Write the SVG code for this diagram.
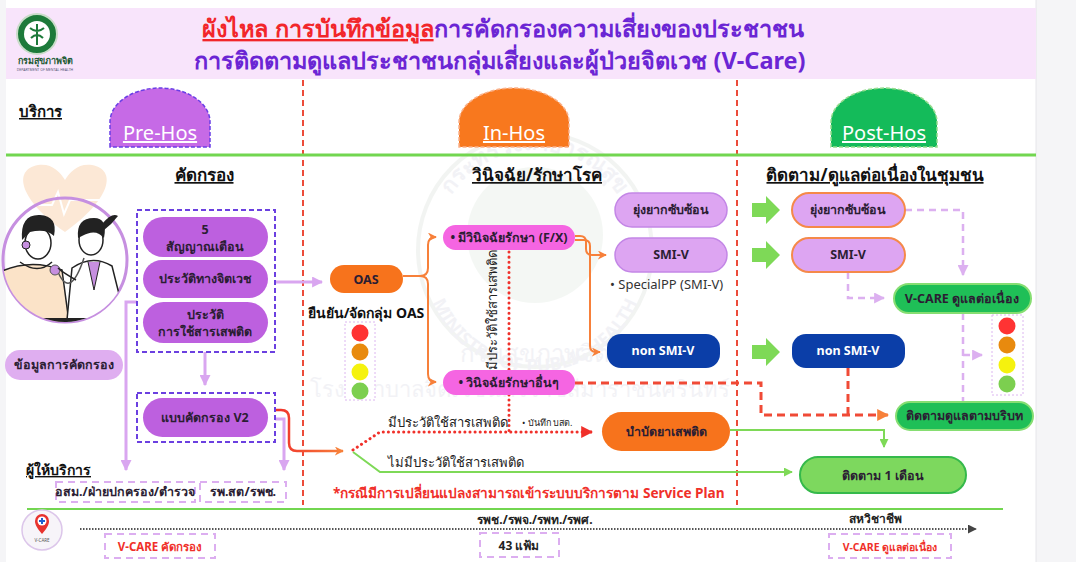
<svg xmlns="http://www.w3.org/2000/svg" width="1076" height="562" viewBox="0 0 1076 562">
  <defs>
    <style>
      text { font-family: "Noto Sans", "DejaVu Sans", sans-serif; }
      .b { font-weight: 700; }
      .pill-t { font-size: 12.5px; font-weight: 700; fill: #2b1d33; text-anchor: middle; }
      .pill-w { font-size: 12.5px; font-weight: 700; fill: #ffffff; text-anchor: middle; }
      .head { font-size: 17px; font-weight: 700; fill: #111; text-anchor: middle; text-decoration: underline; }
      .screen { fill: #bd60df; }
      .dbox { fill: none; stroke: #6b40e0; stroke-width: 2; stroke-dasharray: 5 3; }
      .lbox { fill: #ffffff; stroke: #dcaef0; stroke-width: 2; stroke-dasharray: 7 5; }
      .lav { fill: #dda5f2; stroke: #c386e6; stroke-width: 1.5; }
      .lav-o { fill: #dda5f2; stroke: #f5894a; stroke-width: 2; }
      .navy { fill: #0b3ea8; }
      .mag { fill: #f565e2; }
      .org { fill: #f7731c; }
      .grn { fill: #1fbf57; stroke: #86de72; stroke-width: 2; }
      .sep { stroke: #ec4b3a; stroke-width: 2; stroke-dasharray: 6 4; fill: none; }
      .c-pur { fill: none; stroke: #d9a6f0; stroke-width: 3; }
      .c-org { fill: none; stroke: #f7803a; stroke-width: 2; }
      .c-grn { fill: none; stroke: #7ed957; stroke-width: 2; }
      .c-lav { fill: none; stroke: #dcb0f0; stroke-width: 2.5; stroke-dasharray: 7 5; }
      .c-rdash { fill: none; stroke: #f04a36; stroke-width: 3; stroke-dasharray: 8 5; }
      .c-rdot { fill: none; stroke: #f0302a; stroke-width: 3; stroke-dasharray: 0.1 5; stroke-linecap: round; }
      .tl-box { fill: #ffffff; stroke: #dcb6f0; stroke-width: 1; stroke-dasharray: 2 2; }
      .wm { fill: #e4e4ec; }
    </style>
    <marker id="mPur" viewBox="0 0 10 10" refX="9" refY="5" markerUnits="userSpaceOnUse" markerWidth="11" markerHeight="11" orient="auto">
      <path d="M0,0 L10,5 L0,10 z" fill="#d9a6f0"/>
    </marker>
    <marker id="mOrg" viewBox="0 0 10 10" refX="9" refY="5" markerUnits="userSpaceOnUse" markerWidth="9" markerHeight="9" orient="auto">
      <path d="M0,0 L10,5 L0,10 L3,5 z" fill="#f7803a"/>
    </marker>
    <marker id="mOrgB" viewBox="0 0 10 10" refX="9" refY="5" markerUnits="userSpaceOnUse" markerWidth="12" markerHeight="12" orient="auto">
      <path d="M0,0 L10,5 L0,10 z" fill="#f7803a"/>
    </marker>
    <marker id="mRed" viewBox="0 0 10 10" refX="9" refY="5" markerUnits="userSpaceOnUse" markerWidth="12" markerHeight="12" orient="auto">
      <path d="M0,0 L10,5 L0,10 z" fill="#f0302a"/>
    </marker>
    <marker id="mGrn" viewBox="0 0 10 10" refX="9" refY="5" markerUnits="userSpaceOnUse" markerWidth="9" markerHeight="9" orient="auto">
      <path d="M0,0 L10,5 L0,10 z" fill="#7ed957"/>
    </marker>
    <marker id="mLav" viewBox="0 0 10 10" refX="9" refY="5" markerUnits="userSpaceOnUse" markerWidth="11" markerHeight="11" orient="auto">
      <path d="M0,0 L10,5 L0,10 z" fill="#dcb0f0"/>
    </marker>
    <marker id="mDark" viewBox="0 0 10 10" refX="9" refY="5" markerUnits="userSpaceOnUse" markerWidth="9" markerHeight="9" orient="auto">
      <path d="M0,0 L10,5 L0,10 z" fill="#444"/>
    </marker>
    <linearGradient id="gRedOrg" x1="0" y1="0" x2="1" y2="0">
      <stop offset="0" stop-color="#f0302a"/>
      <stop offset="1" stop-color="#f7803a"/>
    </linearGradient>
    <clipPath id="clipCircle">
      <circle cx="65" cy="260" r="62"/>
    </clipPath>
    <path id="wmTop" d="M435,250 A100,100 0 0 1 635,250"/>
    <path id="wmBot" d="M425,262 A110,110 0 0 0 645,262"/>
  </defs>

  <!-- page and panel -->
  <rect x="0" y="0" width="1076" height="562" fill="#f5f5f7"/>
  <rect x="6" y="0" width="1030" height="562" fill="#ffffff"/>
  <line x1="1036" y1="0" x2="1036" y2="562" stroke="#e6e6ea" stroke-width="1"/>

  <!-- header band -->
  <g id="header">
    <rect x="6" y="8" width="1030" height="71" fill="#f8e4fb"/>
    <g id="logo">
      <circle cx="37" cy="34" r="20" fill="#1d7a3a" stroke="#c9dcc9" stroke-width="2"/>
      <circle cx="37" cy="34" r="13" fill="#ffffff"/>
      <path d="M37,24 V45 M30,28 Q37,34 44,28 M31,38 Q37,32 43,38" stroke="#1d7a3a" stroke-width="2" fill="none"/>
      <text x="45" y="64" font-size="9" class="b" fill="#1d5a34" text-anchor="middle">กรมสุขภาพจิต</text>
      <text x="45" y="71" font-size="3.5" fill="#557" text-anchor="middle">DEPARTMENT OF MENTAL HEALTH</text>
    </g>
    <text x="503" y="37" font-size="23.5" class="b" text-anchor="middle" fill="#6b25d4"><tspan fill="#f2262a" text-decoration="underline">ผังไหล การบันทึกข้อมูล</tspan>การคัดกรองความเสี่ยงของประชาชน</text>
    <text x="500" y="69" font-size="23.5" class="b" text-anchor="middle" fill="#6b25d4">การติดตามดูแลประชาชนกลุ่มเสี่ยงและผู้ป่วยจิตเวช (V-Care)</text>
  </g>

  <!-- faint watermark -->
  <g id="watermark" opacity="0.45">
    <circle cx="535" cy="250" r="117" fill="none" stroke="#e4e8e4" stroke-width="4"/>
    <circle cx="535" cy="235" r="68" fill="#e8efe8"/>
    <text font-size="22" class="b wm"><textPath href="#wmTop" startOffset="50%" text-anchor="middle">กระทรวงสาธารณสุข</textPath></text>
    <text font-size="18" class="b wm"><textPath href="#wmBot" startOffset="50%" text-anchor="middle">MINISTRY OF PUBLIC HEALTH</textPath></text>
    <text x="535" y="362" font-size="24" class="wm" text-anchor="middle">กรมสุขภาพจิต</text>
    <text x="520" y="397" font-size="22" class="wm" text-anchor="middle">โรงพยาบาลจิตเวชนครราชสีมาราชนครินทร์</text>
  </g>

  <!-- phase tabs -->
  <text x="19" y="117" font-size="15" class="b" fill="#111" text-decoration="underline">บริการ</text>
  <g id="tab-pre">
    <path d="M110,147 V122 A50,34 0 0 1 210,122 V147 Z" fill="#c66ae6" stroke="#6a3ee6" stroke-width="1.5" stroke-dasharray="4 2"/>
    <text x="160" y="140" font-size="20" fill="#ffffff" text-anchor="middle" text-decoration="underline">Pre-Hos</text>
  </g>
  <g id="tab-in">
    <path d="M459,147 V122 A55,34 0 0 1 569,122 V147 Z" fill="#f8781e" stroke="#fab18a" stroke-width="1.5" stroke-dasharray="4 2"/>
    <text x="514" y="140" font-size="20" fill="#ffffff" text-anchor="middle" text-decoration="underline">In-Hos</text>
  </g>
  <g id="tab-post">
    <path d="M831,147 V122 A53,34 0 0 1 937,122 V147 Z" fill="#14bb5a" stroke="#95dc8e" stroke-width="1.5" stroke-dasharray="4 2"/>
    <text x="884" y="140" font-size="20" fill="#ffffff" text-anchor="middle" text-decoration="underline">Post-Hos</text>
  </g>

  <!-- phase separators and rules -->
  <line class="sep" x1="303" y1="80" x2="303" y2="505"/>
  <line class="sep" x1="737" y1="80" x2="737" y2="505"/>
  <line x1="6" y1="155" x2="1036" y2="155" stroke="#72d650" stroke-width="3"/>
  <line x1="27" y1="509" x2="1003" y2="509" stroke="#72d650" stroke-width="2"/>

  <!-- section headings -->
  <text class="head" x="204" y="181">คัดกรอง</text>
  <text class="head" x="537" y="181">วินิจฉัย/รักษาโรค</text>
  <text class="head" x="875" y="181">ติดตาม/ดูแลต่อเนื่องในชุมชน</text>

  <!-- screening illustration -->
  <g id="illustration">
    <path d="M65,232 C20,200 12,170 38,165 C52,163 60,172 65,180 C70,172 78,163 92,165 C118,170 110,200 65,232 Z" fill="#fce8d6"/>
    <path d="M28,205 H52 L58,192 L64,214 L70,200 H102" fill="none" stroke="#ffffff" stroke-width="2"/>
    <circle cx="65" cy="260" r="62" fill="none" stroke="#c68fe0" stroke-width="3"/>
    <g clip-path="url(#clipCircle)">
      <path d="M0,272 Q30,258 62,270 L70,330 H0 Z" fill="#fbe3c8" stroke="#222" stroke-width="1.5"/>
      <path d="M20,262 Q38,275 52,262" fill="none" stroke="#222" stroke-width="1.5"/>
      <path d="M72,268 Q92,254 112,266 L128,330 H66 Z" fill="#ffffff" stroke="#222" stroke-width="1.5"/>
      <path d="M88,262 L94,290 L100,262" fill="#c68fe0" stroke="#222" stroke-width="1"/>
      <rect x="0" y="318" width="130" height="20" fill="#222"/>
    </g>
    <ellipse cx="38" cy="243" rx="13" ry="16" fill="#ffffff" stroke="#222" stroke-width="1.5"/>
    <path d="M22,240 Q20,214 40,215 Q58,216 54,236 Q46,228 30,232 Z" fill="#222"/>
    <circle cx="26" cy="245" r="4" fill="#c68fe0" stroke="#222" stroke-width="1"/>
    <ellipse cx="91" cy="240" rx="12" ry="15" fill="#ffffff" stroke="#222" stroke-width="1.5"/>
    <path d="M78,238 Q76,218 94,218 Q108,218 104,238 Q96,228 82,236 Z" fill="#222"/>
    <path d="M102,224 Q112,212 118,216 Q112,224 104,230 Z" fill="#222"/>
    <path d="M84,258 Q70,300 58,272" fill="none" stroke="#555" stroke-width="1.5"/>
    <circle cx="55" cy="270" r="5" fill="#c68fe0" stroke="#555" stroke-width="1"/>
    <path d="M76,280 Q62,272 58,268" fill="none" stroke="#222" stroke-width="1.5"/>
  </g>

  <!-- connectors -->
  <g id="connectors">
    <path class="c-pur" d="M275,282 H322" marker-end="url(#mPur)"/>
    <path class="c-pur" d="M137,302 H126 V470" marker-end="url(#mPur)"/>
    <path class="c-pur" d="M205,352 V385" marker-end="url(#mPur)"/>
    <path class="c-pur" d="M275,419 H284 V470" marker-end="url(#mPur)"/>
    <path d="M275,410 H281 Q289,410 289,418 V443 Q289,451 297,451 H343" fill="none" stroke="url(#gRedOrg)" stroke-width="2.5" marker-end="url(#mOrg)"/>
    <path class="c-rdot" d="M509,252 V432"/>
    <path class="c-rdot" d="M353,450 L380,432 H588"/>
    <path d="M590,432 H592" fill="none" stroke="#f0302a" stroke-width="3" marker-end="url(#mRed)"/>
    <path class="c-grn" d="M353,452 L380,472 H792" marker-end="url(#mGrn)"/>
    <path class="c-org" d="M403,276 H420 Q428,276 428,268 V245 Q428,237 436,237" marker-end="url(#mOrg)"/>
    <path class="c-org" d="M420,276 Q428,276 428,284 V374 Q428,382 436,382" marker-end="url(#mOrg)"/>
    <path class="c-org" d="M575,236 H580 Q586,236 586,242 V249 Q586,255 592,255 H606" marker-end="url(#mOrg)"/>
    <path class="c-org" d="M575,240 H584 Q590,240 590,246 V346 Q590,352 596,352 H600" marker-end="url(#mOrg)"/>
    <path class="c-rdash" d="M575,383 H761 V415 H887" stroke="url(#gRedOrg)"/>
    <path d="M887,415 H888" fill="none" stroke="#f7803a" stroke-width="3" marker-end="url(#mOrgB)"/>
    <path class="c-rdash" d="M848,368 V415"/>
    <path class="c-grn" d="M730,430 H884 V447" marker-end="url(#mGrn)"/>
    <path class="c-lav" d="M905,210 H963 V275" marker-end="url(#mLav)"/>
    <path class="c-lav" d="M848,272 V298 H884" marker-end="url(#mLav)"/>
    <path class="c-lav" d="M963,313 V402"/>
    <path class="c-lav" d="M963,355 H982" marker-end="url(#mLav)"/>
    <path d="M80,529 H976" fill="none" stroke="#555" stroke-width="2" stroke-dasharray="1.5 1.5" marker-end="url(#mDark)"/>
    <g id="block-arrows" fill="#7ed957">
      <polygon points="752,203 766,203 766,196 780,210 766,224 766,217 752,217"/>
      <polygon points="752,248 766,248 766,241 780,255 766,269 766,262 752,262"/>
      <polygon points="752,345 766,345 766,338 780,352 766,366 766,359 752,359"/>
    </g>
  </g>

  <!-- connector labels -->
  <text x="497" y="310" font-size="13" fill="#222" text-anchor="middle" transform="rotate(-90 497 310)">มีประวัติใช้สารเสพติด</text>
  <text x="388" y="427" font-size="13" fill="#222">มีประวัติใช้สารเสพติด</text>
  <text x="522" y="426" font-size="9" fill="#222">•  บันทึก บสต.</text>
  <text x="388" y="467" font-size="13" fill="#222">ไม่มีประวัติใช้สารเสพติด</text>
  <text x="333" y="498" font-size="13.6" class="b" fill="#f0302a">*กรณีมีการเปลี่ยนแปลงสามารถเข้าระบบบริการตาม Service Plan</text>

  <!-- pre-hospital nodes -->
  <g id="n-info">
    <rect x="5" y="350" width="118" height="30" rx="15" fill="#dfaef0"/>
    <text class="pill-t" x="64" y="369" font-size="11.5">ข้อมูลการคัดกรอง</text>
  </g>
  <g id="n-screen-group">
    <rect class="dbox" x="137" y="210" width="138" height="142"/>
  </g>
  <g id="n-warn">
    <rect class="screen" x="143" y="217" width="125" height="40" rx="20"/>
    <text class="pill-t" x="205" y="234">5</text>
    <text class="pill-t" x="205" y="251">สัญญาณเตือน</text>
  </g>
  <g id="n-psych">
    <rect class="screen" x="143" y="260" width="125" height="38" rx="19"/>
    <text class="pill-t" x="205" y="283">ประวัติทางจิตเวช</text>
  </g>
  <g id="n-drug">
    <rect class="screen" x="143" y="302" width="125" height="41" rx="20.5"/>
    <text class="pill-t" x="205" y="319">ประวัติ</text>
    <text class="pill-t" x="205" y="336">การใช้สารเสพติด</text>
  </g>
  <g id="n-v2">
    <rect class="dbox" x="137" y="393" width="138" height="49"/>
    <rect class="screen" x="143" y="398" width="125" height="39" rx="19.5"/>
    <text class="pill-t" x="205" y="422">แบบคัดกรอง V2</text>
  </g>
  <text x="26" y="475" font-size="14" class="b" fill="#111" text-decoration="underline">ผู้ให้บริการ</text>
  <g id="n-osm">
    <rect class="lbox" x="56" y="482" width="139" height="20"/>
    <text class="pill-t" x="125" y="496" font-size="10.5">อสม./ฝ่ายปกครอง/ตำรวจ</text>
  </g>
  <g id="n-rpst">
    <rect class="lbox" x="200" y="482" width="86" height="20"/>
    <text class="pill-t" x="243" y="496" font-size="11">รพ.สต/รพช.</text>
  </g>

  <!-- in-hospital nodes -->
  <g id="n-oas">
    <rect class="org" x="330" y="265" width="73" height="28" rx="14"/>
    <text class="pill-t" x="366" y="284">OAS</text>
  </g>
  <text x="366" y="318" font-size="14" class="b" fill="#111" text-anchor="middle">ยืนยัน/จัดกลุ่ม OAS</text>
  <g id="n-light-oas">
    <rect class="tl-box" x="345" y="322" width="30" height="78"/>
    <circle cx="360" cy="333" r="8.5" fill="#ff3333"/>
    <circle cx="360" cy="352" r="8.5" fill="#e88a0e"/>
    <circle cx="360" cy="372" r="8.5" fill="#f5f20e"/>
    <circle cx="360" cy="391" r="8.5" fill="#7ccf4f"/>
  </g>
  <g id="n-fx">
    <rect class="mag" x="443" y="225" width="132" height="25" rx="12.5"/>
    <text class="pill-t" x="509" y="242" font-size="11">•  มีวินิจฉัยรักษา (F/X)</text>
  </g>
  <g id="n-other">
    <rect class="mag" x="443" y="370" width="132" height="25" rx="12.5"/>
    <text class="pill-t" x="509" y="387" font-size="11">•  วินิจฉัยรักษาอื่นๆ</text>
  </g>
  <g id="n-complex-in">
    <rect class="lav" x="615" y="193" width="112" height="34" rx="17"/>
    <text class="pill-t" x="671" y="214">ยุ่งยากซับซ้อน</text>
  </g>
  <g id="n-smiv-in">
    <rect class="lav" x="615" y="238" width="112" height="34" rx="17"/>
    <text class="pill-t" x="671" y="259">SMI-V</text>
  </g>
  <text x="610" y="289" font-size="13" fill="#333">•  SpecialPP (SMI-V)</text>
  <g id="n-nonsmiv-in">
    <rect class="navy" x="607" y="334" width="113" height="34" rx="14"/>
    <text class="pill-w" x="663" y="355">non SMI-V</text>
  </g>
  <g id="n-rehab">
    <rect class="org" x="602" y="412" width="128" height="39" rx="19.5"/>
    <text class="pill-t" x="666" y="436">บำบัดยาเสพติด</text>
  </g>

  <!-- post-hospital nodes -->
  <g id="n-complex-post">
    <rect class="lav-o" x="792" y="193" width="113" height="34" rx="17"/>
    <text class="pill-t" x="848" y="214">ยุ่งยากซับซ้อน</text>
  </g>
  <g id="n-smiv-post">
    <rect class="lav-o" x="792" y="238" width="113" height="34" rx="17"/>
    <text class="pill-t" x="848" y="259">SMI-V</text>
  </g>
  <g id="n-nonsmiv-post">
    <rect class="navy" x="792" y="334" width="113" height="34" rx="14"/>
    <text class="pill-w" x="848" y="355">non SMI-V</text>
  </g>
  <g id="n-vcare-follow">
    <rect class="grn" x="894" y="284" width="137" height="29" rx="14.5"/>
    <text class="pill-t" x="962" y="303" fill="#10301a">V-CARE ดูแลต่อเนื่อง</text>
  </g>
  <g id="n-light-post">
    <rect class="tl-box" x="992" y="315" width="31" height="80"/>
    <circle cx="1007" cy="326" r="8.5" fill="#ff3333"/>
    <circle cx="1007" cy="345" r="8.5" fill="#e88a0e"/>
    <circle cx="1007" cy="365" r="8.5" fill="#f5f20e"/>
    <circle cx="1007" cy="384" r="8.5" fill="#7ccf4f"/>
  </g>
  <g id="n-context">
    <rect class="grn" x="896" y="402" width="137" height="28" rx="14"/>
    <text class="pill-t" x="964" y="420" fill="#10301a">ติดตามดูแลตามบริบท</text>
  </g>
  <g id="n-month">
    <rect x="800" y="457" width="166" height="36" rx="18" fill="#7dd85e" stroke="#35b94b" stroke-width="2"/>
    <text class="pill-t" x="883" y="480" font-size="13.5">ติดตาม 1 เดือน</text>
  </g>

  <!-- timeline footer -->
  <g id="n-vcare-logo">
    <circle cx="42" cy="530" r="20" fill="#f7f4f9" stroke="#dcc6ea" stroke-width="1.5"/>
    <path d="M42,534 C36,527 35,524 35,521 A7,7 0 0 1 49,521 C49,524 48,527 42,534 Z" fill="#e8322e"/>
    <circle cx="42" cy="521" r="4.5" fill="#ffffff"/>
    <path d="M42,518 V524 M39,521 H45" stroke="#1f5fd0" stroke-width="2"/>
    <text x="42" y="542" font-size="4.5" fill="#555" text-anchor="middle">V-CARE</text>
  </g>
  <text x="535" y="524" font-size="12" class="b" fill="#222" text-anchor="middle">รพช./รพจ./รพท./รพศ.</text>
  <text x="875" y="523" font-size="12" class="b" fill="#222" text-anchor="middle">สหวิชาชีพ</text>
  <g id="n-vcare-screen">
    <rect class="lbox" x="105" y="534" width="110" height="24"/>
    <text x="160" y="551" font-size="11.5" class="b" fill="#f0302a" text-anchor="middle">V-CARE คัดกรอง</text>
  </g>
  <g id="n-43">
    <rect class="lbox" x="480" y="533" width="79" height="24"/>
    <text x="519" y="550" font-size="12" class="b" fill="#222" text-anchor="middle">43 แฟ้ม</text>
  </g>
  <g id="n-vcare-cont">
    <rect class="lbox" x="829" y="534" width="122" height="24"/>
    <text x="890" y="551" font-size="10.5" class="b" fill="#f0302a" text-anchor="middle">V-CARE ดูแลต่อเนื่อง</text>
  </g>
</svg>
